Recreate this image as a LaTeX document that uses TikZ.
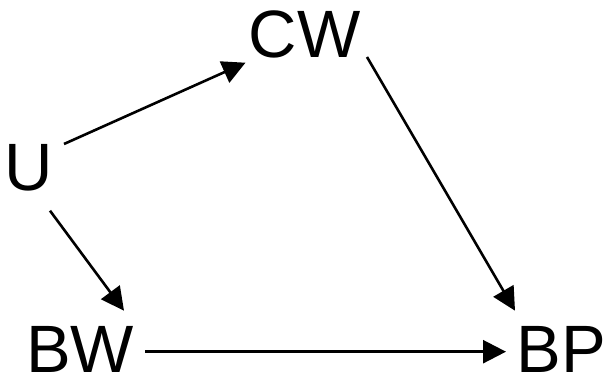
\documentclass[tikz,border=0pt]{standalone}
\usepackage{fontspec}
\setmainfont{Liberation Sans}
\usetikzlibrary{arrows.meta}
\tikzset{
  lbl/.style={inner sep=0pt, outer sep=0pt, anchor=center, font=\fontsize{67}{80}\selectfont},
  arr/.style={line width=2.6pt, -{Triangle[length=23pt,width=23pt]}}
}
\begin{document}
\begin{tikzpicture}[x=1pt,y=-1pt]
\useasboundingbox (0,0) rectangle (603,379);
\node[lbl] (CW) at (304.5,34.5) {CW};
\node[lbl] (U) at (29,168) {U};
\node[lbl] (BW) at (80,349.5) {BW};
\node[lbl] (BP) at (561,349.5) {BP};
\draw[arr] ([shift={(35,-24)}]U.center) -- ([shift={(-59,28.2)}]CW.center);
\draw[arr] ([shift={(21,42.7)}]U.center) -- ([shift={(44,-38.8)}]BW.center);
\draw[arr] ([shift={(62.5,22.5)}]CW.center) -- ([shift={(-46,-38.8)}]BP.center);
\draw[arr] ([shift={(65,2.2)}]BW.center) -- ([shift={(-55,2.2)}]BP.center);
\end{tikzpicture}
\end{document}
